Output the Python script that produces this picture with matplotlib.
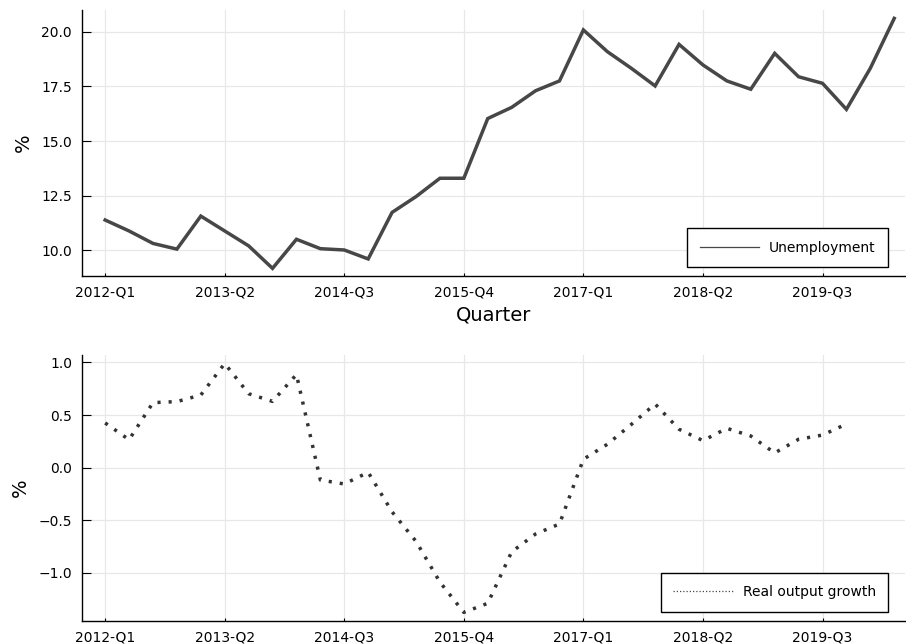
import matplotlib
matplotlib.use('Agg')
from matplotlib import pyplot as plt
from matplotlib.lines import Line2D

# quarterly series, 2012-Q1 onwards
unemployment = [11.39, 10.89, 10.32, 10.06, 11.57, 10.89, 10.21, 9.18, 10.51, 10.08,
                10.02, 9.61, 11.74, 12.46, 13.30, 13.30, 16.03, 16.54, 17.30, 17.75,
                20.08, 19.09, 18.33, 17.52, 19.42, 18.48, 17.75, 17.37, 19.01, 17.94,
                17.64, 16.45, 18.33, 20.61]
output_growth = [0.425, 0.266, 0.618, 0.628, 0.69, 0.99, 0.703, 0.63, 0.885, -0.117,
                 -0.155, -0.044, -0.42, -0.70, -1.087, -1.375, -1.289, -0.80, -0.63, -0.535,
                 0.08, 0.222, 0.41, 0.605, 0.365, 0.257, 0.374, 0.301, 0.14, 0.27,
                 0.31, 0.415]

quarters = ['%d-Q%d' % (2012 + i // 4, i % 4 + 1) for i in range(len(unemployment))]
tick_labels = ['2012-Q1', '2013-Q2', '2014-Q3', '2015-Q4', '2017-Q1', '2018-Q2', '2019-Q3']
tick_pos = [quarters.index(q) for q in tick_labels]

line_color = '#474747'

plt.rcParams['font.family'] = 'DejaVu Sans'
plt.rcParams['axes.unicode_minus'] = True

fig = plt.figure(figsize=(9.06, 6.44), dpi=100)
ax1 = fig.add_axes([0.0902, 0.5714, 0.9087, 0.4130])
ax2 = fig.add_axes([0.0902, 0.0362, 0.9087, 0.4126])


def style(ax):
    for s in ['top', 'right']:
        ax.spines[s].set_visible(False)
    for s in ['left', 'bottom']:
        ax.spines[s].set_linewidth(1.0)
        ax.spines[s].set_color('black')
    ax.grid(True, color='#e8e8e8', linewidth=0.9)
    ax.set_axisbelow(True)
    ax.set_xticks(tick_pos)
    ax.set_xticklabels(tick_labels)
    ax.set_xlim(-0.98, 33.45)
    ax.tick_params(axis='x', direction='in', length=2.5, width=0.8, pad=7, labelsize=10)
    ax.tick_params(axis='y', direction='in', length=6.5, width=0.8, pad=7, labelsize=10)
    ax.set_ylabel('%', fontsize=14, labelpad=6)


# unemployment
x1 = list(range(len(unemployment)))
ax1.plot(x1, unemployment, color=line_color, linewidth=2.5, solid_joinstyle='miter')
style(ax1)
ax1.set_ylim(8.83, 20.99)
ax1.set_yticks([10.0, 12.5, 15.0, 17.5, 20.0])
ax1.set_yticklabels(['10.0', '12.5', '15.0', '17.5', '20.0'])
ax1.set_xlabel('Quarter', fontsize=14, labelpad=4)
h1 = Line2D([], [], color=line_color, linewidth=0.9)
leg1 = ax1.legend([h1], ['Unemployment'], loc='lower right', bbox_to_anchor=(0.9797, 0.0327),
                  borderaxespad=0, fancybox=False, framealpha=1, edgecolor='black',
                  fontsize=10, handlelength=4.3, handletextpad=0.7, borderpad=0.9)
leg1.get_frame().set_linewidth(1.0)

# real output growth
x2 = list(range(len(output_growth)))
ax2.plot(x2, output_growth, color='#333333', linewidth=2.5,
         linestyle=(0, (0.9, 2.3)), dash_capstyle='butt')
style(ax2)
ax2.set_ylim(-1.454, 1.071)
ax2.set_yticks([-1.0, -0.5, 0.0, 0.5, 1.0])
h2 = Line2D([], [], color=line_color, linewidth=0.9, linestyle=(0, (1, 1.6)))
leg2 = ax2.legend([h2], ['Real output growth'], loc='lower right', bbox_to_anchor=(0.9797, 0.0339),
                  borderaxespad=0, fancybox=False, framealpha=1, edgecolor='black',
                  fontsize=10, handlelength=4.3, handletextpad=0.7, borderpad=0.9)
leg2.get_frame().set_linewidth(1.0)

fig.savefig('out.png', dpi=100)
